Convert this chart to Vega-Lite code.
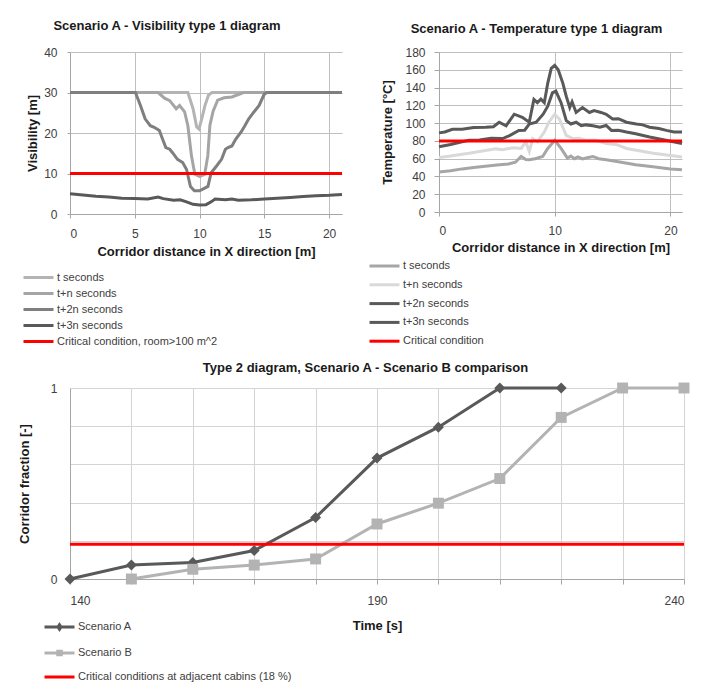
{
"$schema":"https://vega.github.io/schema/vega-lite/v6.json",
"padding":{"left":18,"top":20,"right":20,"bottom":0},
"background":"white",
"config":{
 "font":"Liberation Sans",
 "view":{"stroke":null},
 "axis":{"labelFontSize":12,"labelColor":"#404040","titleFontSize":13,"titleFontWeight":"bold","titleColor":"#1a1a1a","gridColor":"#bfbfbf","domainColor":"#a6a6a6","tickColor":"#a6a6a6","labelFont":"Liberation Sans","titleFont":"Liberation Sans"},
 "legend":{"labelFontSize":11,"labelColor":"#404040","labelFont":"Liberation Sans","padding":0,"labelOffset":12,"labelLimit":400,"symbolSize":100,"symbolStrokeWidth":3,"symbolType":"M-3,0H3"},
 "title":{"fontSize":13,"fontWeight":"bold","color":"#1a1a1a","anchor":"middle","frame":"group","font":"Liberation Sans"}
},
"datasets":{
 "vis":[
  {"x":0,"v":30,"s":"t seconds"},{"x":9.1,"v":30,"s":"t seconds"},{"x":9.5,"v":26,"s":"t seconds"},{"x":9.78,"v":21.5,"s":"t seconds"},{"x":9.96,"v":21,"s":"t seconds"},{"x":10.17,"v":23.5,"s":"t seconds"},{"x":10.43,"v":26.9,"s":"t seconds"},{"x":10.7,"v":29.4,"s":"t seconds"},{"x":10.96,"v":30,"s":"t seconds"},{"x":21,"v":30,"s":"t seconds"},
  {"x":0,"v":30,"s":"t+n seconds"},{"x":6.8,"v":30,"s":"t+n seconds"},{"x":7.3,"v":28.6,"s":"t+n seconds"},{"x":7.7,"v":28,"s":"t+n seconds"},{"x":8.2,"v":26,"s":"t+n seconds"},{"x":8.46,"v":26.8,"s":"t+n seconds"},{"x":8.85,"v":25.2,"s":"t+n seconds"},{"x":9.1,"v":21.8,"s":"t+n seconds"},{"x":9.38,"v":14.3,"s":"t+n seconds"},{"x":9.64,"v":9.8,"s":"t+n seconds"},{"x":10,"v":9.3,"s":"t+n seconds"},{"x":10.4,"v":9.8,"s":"t+n seconds"},{"x":10.64,"v":14.4,"s":"t+n seconds"},{"x":10.8,"v":21.9,"s":"t+n seconds"},{"x":11.05,"v":25.4,"s":"t+n seconds"},{"x":11.4,"v":28.1,"s":"t+n seconds"},{"x":11.9,"v":28.7,"s":"t+n seconds"},{"x":12.5,"v":28.9,"s":"t+n seconds"},{"x":13,"v":29.5,"s":"t+n seconds"},{"x":13.4,"v":30,"s":"t+n seconds"},{"x":21,"v":30,"s":"t+n seconds"},
  {"x":0,"v":30,"s":"t+2n seconds"},{"x":5.05,"v":30,"s":"t+2n seconds"},{"x":5.44,"v":26.8,"s":"t+2n seconds"},{"x":5.8,"v":23.5,"s":"t+2n seconds"},{"x":6.2,"v":21.8,"s":"t+2n seconds"},{"x":6.5,"v":21.4,"s":"t+2n seconds"},{"x":6.9,"v":20.6,"s":"t+2n seconds"},{"x":7.1,"v":18.9,"s":"t+2n seconds"},{"x":7.4,"v":16.4,"s":"t+2n seconds"},{"x":7.7,"v":16,"s":"t+2n seconds"},{"x":7.9,"v":15.2,"s":"t+2n seconds"},{"x":8.3,"v":13.5,"s":"t+2n seconds"},{"x":8.7,"v":12.7,"s":"t+2n seconds"},{"x":9,"v":11,"s":"t+2n seconds"},{"x":9.3,"v":6.8,"s":"t+2n seconds"},{"x":9.6,"v":5.75,"s":"t+2n seconds"},{"x":10,"v":5.75,"s":"t+2n seconds"},{"x":10.4,"v":6.4,"s":"t+2n seconds"},{"x":10.65,"v":6.8,"s":"t+2n seconds"},{"x":10.9,"v":10.2,"s":"t+2n seconds"},{"x":11.3,"v":11.8,"s":"t+2n seconds"},{"x":11.7,"v":13.5,"s":"t+2n seconds"},{"x":12,"v":16,"s":"t+2n seconds"},{"x":12.2,"v":16.4,"s":"t+2n seconds"},{"x":12.5,"v":16.8,"s":"t+2n seconds"},{"x":12.8,"v":18.5,"s":"t+2n seconds"},{"x":13.2,"v":20.2,"s":"t+2n seconds"},{"x":13.5,"v":21.8,"s":"t+2n seconds"},{"x":13.8,"v":23.5,"s":"t+2n seconds"},{"x":14.2,"v":25.2,"s":"t+2n seconds"},{"x":14.6,"v":26.8,"s":"t+2n seconds"},{"x":15,"v":29.6,"s":"t+2n seconds"},{"x":15.2,"v":30,"s":"t+2n seconds"},{"x":21,"v":30,"s":"t+2n seconds"},
  {"x":0,"v":5,"s":"t+3n seconds"},{"x":1,"v":4.7,"s":"t+3n seconds"},{"x":2,"v":4.4,"s":"t+3n seconds"},{"x":3,"v":4.2,"s":"t+3n seconds"},{"x":4,"v":3.9,"s":"t+3n seconds"},{"x":5,"v":3.8,"s":"t+3n seconds"},{"x":6,"v":3.7,"s":"t+3n seconds"},{"x":6.8,"v":4.2,"s":"t+3n seconds"},{"x":7.2,"v":3.8,"s":"t+3n seconds"},{"x":8,"v":3.4,"s":"t+3n seconds"},{"x":8.5,"v":3.5,"s":"t+3n seconds"},{"x":9,"v":3,"s":"t+3n seconds"},{"x":9.5,"v":2.4,"s":"t+3n seconds"},{"x":10,"v":2.2,"s":"t+3n seconds"},{"x":10.5,"v":2.3,"s":"t+3n seconds"},{"x":10.9,"v":3,"s":"t+3n seconds"},{"x":11.2,"v":3.7,"s":"t+3n seconds"},{"x":12,"v":3.5,"s":"t+3n seconds"},{"x":12.5,"v":3.7,"s":"t+3n seconds"},{"x":13,"v":3.4,"s":"t+3n seconds"},{"x":14,"v":3.5,"s":"t+3n seconds"},{"x":15,"v":3.7,"s":"t+3n seconds"},{"x":16,"v":3.9,"s":"t+3n seconds"},{"x":17,"v":4.1,"s":"t+3n seconds"},{"x":18,"v":4.3,"s":"t+3n seconds"},{"x":19,"v":4.5,"s":"t+3n seconds"},{"x":20,"v":4.6,"s":"t+3n seconds"},{"x":21,"v":4.8,"s":"t+3n seconds"},
  {"x":0,"v":10,"s":"Critical condition, room>100 m^2"},{"x":21,"v":10,"s":"Critical condition, room>100 m^2"}
 ],
 "temp":[
  {"x":0,"v":45,"s":"t seconds"},{"x":1,"v":46.5,"s":"t seconds"},{"x":2,"v":48.5,"s":"t seconds"},{"x":3,"v":50,"s":"t seconds"},{"x":4,"v":51.5,"s":"t seconds"},{"x":5,"v":53,"s":"t seconds"},{"x":6,"v":54,"s":"t seconds"},{"x":6.6,"v":56,"s":"t seconds"},{"x":7.1,"v":62.5,"s":"t seconds"},{"x":7.5,"v":59,"s":"t seconds"},{"x":7.8,"v":58.7,"s":"t seconds"},{"x":8.3,"v":60,"s":"t seconds"},{"x":8.96,"v":62.5,"s":"t seconds"},{"x":9.4,"v":71.5,"s":"t seconds"},{"x":10,"v":80.7,"s":"t seconds"},{"x":10.55,"v":71.5,"s":"t seconds"},{"x":11.1,"v":60.6,"s":"t seconds"},{"x":11.4,"v":63,"s":"t seconds"},{"x":11.7,"v":60,"s":"t seconds"},{"x":12,"v":62,"s":"t seconds"},{"x":12.4,"v":59.8,"s":"t seconds"},{"x":12.8,"v":61,"s":"t seconds"},{"x":13.3,"v":62.5,"s":"t seconds"},{"x":13.8,"v":60,"s":"t seconds"},{"x":14.45,"v":58.7,"s":"t seconds"},{"x":15.5,"v":56.5,"s":"t seconds"},{"x":17,"v":53.2,"s":"t seconds"},{"x":18.5,"v":51,"s":"t seconds"},{"x":20,"v":48.5,"s":"t seconds"},{"x":21,"v":47.6,"s":"t seconds"},
  {"x":0,"v":61.3,"s":"t+n seconds"},{"x":1,"v":63,"s":"t+n seconds"},{"x":2,"v":65,"s":"t+n seconds"},{"x":2.6,"v":66,"s":"t+n seconds"},{"x":3.5,"v":68,"s":"t+n seconds"},{"x":4.9,"v":71,"s":"t+n seconds"},{"x":5.5,"v":70,"s":"t+n seconds"},{"x":6.4,"v":72.3,"s":"t+n seconds"},{"x":7.1,"v":71.5,"s":"t+n seconds"},{"x":7.5,"v":79,"s":"t+n seconds"},{"x":7.8,"v":68,"s":"t+n seconds"},{"x":8.1,"v":82.6,"s":"t+n seconds"},{"x":8.5,"v":79,"s":"t+n seconds"},{"x":9.1,"v":90,"s":"t+n seconds"},{"x":9.5,"v":101,"s":"t+n seconds"},{"x":10,"v":110,"s":"t+n seconds"},{"x":10.4,"v":104.6,"s":"t+n seconds"},{"x":11,"v":86,"s":"t+n seconds"},{"x":11.6,"v":82.6,"s":"t+n seconds"},{"x":12.1,"v":83,"s":"t+n seconds"},{"x":12.7,"v":80.7,"s":"t+n seconds"},{"x":13.5,"v":81,"s":"t+n seconds"},{"x":14.45,"v":77,"s":"t+n seconds"},{"x":15.3,"v":76,"s":"t+n seconds"},{"x":16.2,"v":71.5,"s":"t+n seconds"},{"x":17.3,"v":69,"s":"t+n seconds"},{"x":18.5,"v":66,"s":"t+n seconds"},{"x":19.7,"v":64,"s":"t+n seconds"},{"x":21,"v":62,"s":"t+n seconds"},
  {"x":0,"v":73.4,"s":"t+2n seconds"},{"x":1,"v":76,"s":"t+2n seconds"},{"x":2,"v":79,"s":"t+2n seconds"},{"x":2.6,"v":80.7,"s":"t+2n seconds"},{"x":3.5,"v":81,"s":"t+2n seconds"},{"x":4.5,"v":83,"s":"t+2n seconds"},{"x":5.5,"v":82.6,"s":"t+2n seconds"},{"x":6.1,"v":86,"s":"t+2n seconds"},{"x":6.9,"v":91.8,"s":"t+2n seconds"},{"x":7.4,"v":92,"s":"t+2n seconds"},{"x":7.8,"v":99,"s":"t+2n seconds"},{"x":8.4,"v":101,"s":"t+2n seconds"},{"x":9,"v":110,"s":"t+2n seconds"},{"x":9.4,"v":119,"s":"t+2n seconds"},{"x":9.8,"v":134,"s":"t+2n seconds"},{"x":10.1,"v":136,"s":"t+2n seconds"},{"x":10.55,"v":123,"s":"t+2n seconds"},{"x":11,"v":102.8,"s":"t+2n seconds"},{"x":11.4,"v":99,"s":"t+2n seconds"},{"x":11.85,"v":101,"s":"t+2n seconds"},{"x":12.3,"v":97,"s":"t+2n seconds"},{"x":12.7,"v":98,"s":"t+2n seconds"},{"x":13.3,"v":97,"s":"t+2n seconds"},{"x":13.9,"v":95.4,"s":"t+2n seconds"},{"x":14.45,"v":97.3,"s":"t+2n seconds"},{"x":14.9,"v":91.8,"s":"t+2n seconds"},{"x":15.5,"v":92,"s":"t+2n seconds"},{"x":16.2,"v":90,"s":"t+2n seconds"},{"x":17,"v":88,"s":"t+2n seconds"},{"x":18.2,"v":84.4,"s":"t+2n seconds"},{"x":19.5,"v":81,"s":"t+2n seconds"},{"x":21,"v":77,"s":"t+2n seconds"},
  {"x":0,"v":89,"s":"t+3n seconds"},{"x":0.5,"v":90,"s":"t+3n seconds"},{"x":1.16,"v":93,"s":"t+3n seconds"},{"x":2,"v":93,"s":"t+3n seconds"},{"x":3,"v":95,"s":"t+3n seconds"},{"x":4.05,"v":95.4,"s":"t+3n seconds"},{"x":4.7,"v":96,"s":"t+3n seconds"},{"x":5.2,"v":101,"s":"t+3n seconds"},{"x":5.8,"v":97,"s":"t+3n seconds"},{"x":6.5,"v":110,"s":"t+3n seconds"},{"x":7.2,"v":106.5,"s":"t+3n seconds"},{"x":7.8,"v":101,"s":"t+3n seconds"},{"x":8.2,"v":126.7,"s":"t+3n seconds"},{"x":8.5,"v":123,"s":"t+3n seconds"},{"x":8.8,"v":127,"s":"t+3n seconds"},{"x":9.1,"v":123,"s":"t+3n seconds"},{"x":9.4,"v":145,"s":"t+3n seconds"},{"x":9.7,"v":161.6,"s":"t+3n seconds"},{"x":10,"v":165,"s":"t+3n seconds"},{"x":10.3,"v":160,"s":"t+3n seconds"},{"x":10.7,"v":145,"s":"t+3n seconds"},{"x":11,"v":130,"s":"t+3n seconds"},{"x":11.3,"v":117.5,"s":"t+3n seconds"},{"x":11.5,"v":124,"s":"t+3n seconds"},{"x":11.85,"v":112,"s":"t+3n seconds"},{"x":12.4,"v":117.5,"s":"t+3n seconds"},{"x":13,"v":112,"s":"t+3n seconds"},{"x":13.4,"v":114,"s":"t+3n seconds"},{"x":14,"v":112,"s":"t+3n seconds"},{"x":14.45,"v":110,"s":"t+3n seconds"},{"x":15,"v":104.6,"s":"t+3n seconds"},{"x":15.5,"v":105,"s":"t+3n seconds"},{"x":16.2,"v":101,"s":"t+3n seconds"},{"x":17.05,"v":99,"s":"t+3n seconds"},{"x":17.6,"v":98,"s":"t+3n seconds"},{"x":18.2,"v":95.4,"s":"t+3n seconds"},{"x":19,"v":94,"s":"t+3n seconds"},{"x":19.65,"v":91.8,"s":"t+3n seconds"},{"x":20.3,"v":90,"s":"t+3n seconds"},{"x":21,"v":90,"s":"t+3n seconds"},
  {"x":0,"v":80,"s":"Critical condition"},{"x":21,"v":80,"s":"Critical condition"}
 ],
 "t2":[
  {"t":140,"f":0,"s":"Scenario A"},{"t":150,"f":0.073,"s":"Scenario A"},{"t":160,"f":0.087,"s":"Scenario A"},{"t":170,"f":0.149,"s":"Scenario A"},{"t":180,"f":0.322,"s":"Scenario A"},{"t":190,"f":0.633,"s":"Scenario A"},{"t":200,"f":0.795,"s":"Scenario A"},{"t":210,"f":1,"s":"Scenario A"},{"t":220,"f":1,"s":"Scenario A"},
  {"t":150,"f":0,"s":"Scenario B"},{"t":160,"f":0.051,"s":"Scenario B"},{"t":170,"f":0.073,"s":"Scenario B"},{"t":180,"f":0.105,"s":"Scenario B"},{"t":190,"f":0.288,"s":"Scenario B"},{"t":200,"f":0.397,"s":"Scenario B"},{"t":210,"f":0.526,"s":"Scenario B"},{"t":220,"f":0.846,"s":"Scenario B"},{"t":230,"f":1,"s":"Scenario B"},{"t":240,"f":1,"s":"Scenario B"},
  {"t":140,"f":0.182,"s":"Critical conditions at adjacent cabins (18 %)"},{"t":240,"f":0.182,"s":"Critical conditions at adjacent cabins (18 %)"}
 ]
},
"bounds":"flush",
"spacing":336,
"resolve":{"scale":{"color":"independent"}},
"vconcat":[
 {"bounds":"flush","spacing":97,"resolve":{"scale":{"color":"independent"}},
  "hconcat":[
   {"width":272,"height":162,
    "title":{"text":"Scenario A - Visibility type 1 diagram","dx":-39,"offset":13},
    "data":{"name":"vis"},
    "mark":{"type":"line","strokeWidth":3},
    "encoding":{
     "x":{"field":"x","type":"quantitative","scale":{"domain":[0,21],"nice":false},"axis":{"values":[0,5,10,15,20],"title":"Corridor distance in X direction [m]","tickSize":4,"labelPadding":10,"titlePadding":6}},
     "y":{"field":"v","type":"quantitative","scale":{"domain":[0,40]},"axis":{"values":[0,10,20,30,40],"title":"Visibility  [m]","tickSize":3,"labelPadding":10,"titlePadding":4}},
     "color":{"field":"s","type":"nominal","scale":{"domain":["t seconds","t+n seconds","t+2n seconds","t+3n seconds","Critical condition, room>100 m^2"],"range":["#b4b4b4","#a5a5a5","#7f7f7f","#595959","#ff0000"]},"legend":{"orient":"none","legendX":-38,"legendY":219,"rowPadding":3,"title":null}}
    }
   },
   {"width":243,"height":160,
    "title":{"text":"Scenario A - Temperature type 1 diagram","dx":-24,"offset":10},
    "data":{"name":"temp"},
    "mark":{"type":"line","strokeWidth":3},
    "encoding":{
     "x":{"field":"x","type":"quantitative","scale":{"domain":[0,21],"nice":false},"axis":{"values":[0,10,20],"title":"Corridor distance in X direction [m]","tickSize":4,"labelPadding":9,"titlePadding":5}},
     "y":{"field":"v","type":"quantitative","scale":{"domain":[0,180]},"axis":{"values":[0,20,40,60,80,100,120,140,160,180],"title":"Temperature  [°C]","tickSize":5,"labelPadding":9,"titlePadding":10}},
     "color":{"field":"s","type":"nominal","scale":{"domain":["t seconds","t+n seconds","t+2n seconds","t+3n seconds","Critical condition"],"range":["#a6a6a6","#d9d9d9","#595959","#595959","#ff0000"]},"legend":{"orient":"none","legendX":-61,"legendY":207.5,"rowPadding":5.8,"title":null}}
    }
   }
  ]
 },
 {"width":614,"height":191,
  "title":{"text":"Type 2 diagram, Scenario A - Scenario B comparison","dx":-11.5,"offset":7},
  "data":{"name":"t2"},
  "encoding":{
   "x":{"field":"t","type":"quantitative","scale":{"domain":[140,240],"nice":false},"axis":{"values":[140,150,160,170,180,190,200,210,220,230,240],"labelExpr":"datum.value % 50 == 40 ? datum.label : ''","title":"Time [s]","tickSize":5,"labelPadding":11,"titlePadding":13,"gridColor":"#d4d4d4"}},
   "y":{"field":"f","type":"quantitative","scale":{"domain":[0,1],"nice":false},"axis":{"values":[0,0.2,0.4,0.6,0.8,1],"labelExpr":"datum.value == 0 ? '0' : datum.value == 1 ? '1' : ''","title":"Corridor fraction  [-]","tickSize":0,"labelPadding":13,"titlePadding":19,"gridColor":"#d4d4d4"}},
   "color":{"field":"s","type":"nominal","scale":{"domain":["Scenario A","Scenario B","Critical conditions at adjacent cabins (18 %)"],"range":["#595959","#b3b3b3","#ff0000"]},"legend":{"orient":"none","legendX":-17,"legendY":232.5,"rowPadding":9,"title":null,
     "encode":{"symbols":{"update":{"shape":{"signal":"datum.value == 'Scenario A' ? 'M-3,0H3M0,-0.45L0.3,0L0,0.45L-0.3,0Z' : datum.value == 'Scenario B' ? 'M-3,0H3M-0.35,-0.35H0.35V0.35H-0.35Z' : 'M-3,0H3'"}}}}}}
  },
  "layer":[
   {"mark":{"type":"line","strokeWidth":3}},
   {"transform":[{"filter":{"field":"s","oneOf":["Scenario A","Scenario B"]}}],
    "mark":{"type":"point","filled":true,"opacity":1,"size":120},
    "encoding":{"shape":{"field":"s","type":"nominal","scale":{"domain":["Scenario A","Scenario B"],"range":["diamond","square"]},"legend":null}}}
  ]
 }
]
}
